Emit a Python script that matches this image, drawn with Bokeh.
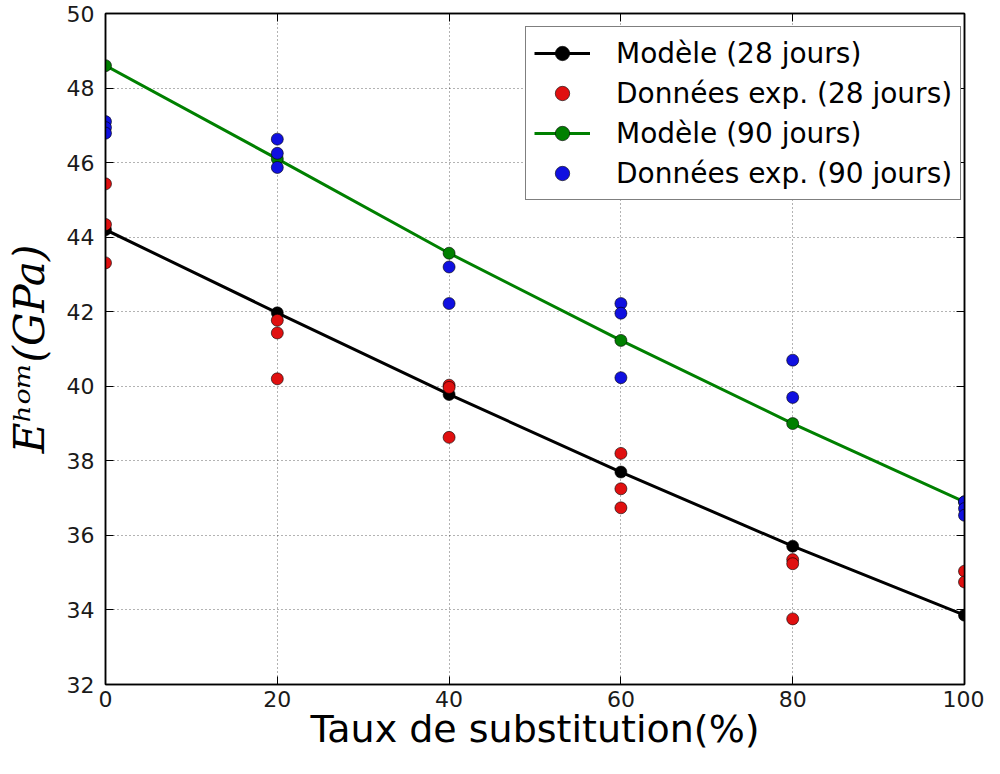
from bokeh.plotting import figure
from bokeh.models import Legend, LegendItem, LinearAxis, Range1d, FixedTicker
from bokeh.embed import file_html
from bokeh.resources import INLINE

# ---- data ----
taux = [0, 20, 40, 60, 80, 100]
modele_28 = [44.2, 41.97, 39.78, 37.7, 35.71, 33.86]
modele_90 = [48.6, 46.1, 43.57, 41.23, 39.0, 36.9]

exp28_x = [0, 0, 0, 20, 20, 20, 40, 40, 40, 60, 60, 60, 80, 80, 80, 100, 100]
exp28_y = [45.43, 44.34, 43.31, 41.77, 41.43, 40.2, 40.03, 39.97, 38.63,
           38.2, 37.25, 36.74, 35.35, 35.24, 33.76, 35.04, 34.75]
exp90_x = [0, 0, 0, 20, 20, 20, 40, 40, 60, 60, 60, 80, 80, 100, 100, 100]
exp90_y = [47.1, 46.94, 46.79, 46.63, 46.25, 45.87, 43.2, 42.22, 42.22,
           41.96, 40.23, 40.7, 39.7, 36.9, 36.72, 36.54]

x_ticks = [0, 20, 40, 60, 80, 100]
y_ticks = [32, 34, 36, 38, 40, 42, 44, 46, 48, 50]

labels = ["Modèle (28 jours)", "Données exp. (28 jours)",
          "Modèle (90 jours)", "Données exp. (90 jours)"]

p = figure(width=984, height=758, output_backend="svg", toolbar_location=None,
           x_range=Range1d(0, 100), y_range=Range1d(32, 50),
           min_border_left=105, min_border_right=20, min_border_top=13,
           min_border_bottom=74)

p.background_fill_color = "white"
p.border_fill_color = "white"
p.outline_line_color = "black"
p.outline_line_width = 1.5

# axes
for ax in (p.xaxis[0], p.yaxis[0]):
    ax.major_tick_in = 8
    ax.major_tick_out = 0
    ax.minor_tick_line_color = None
    ax.axis_line_color = "black"
    ax.axis_line_width = 1.5
    ax.major_tick_line_color = "black"
    ax.major_label_text_font = "DejaVu Sans"
    ax.major_label_text_font_size = "22px"
    ax.major_label_text_color = "#1a1a1a"
p.xaxis[0].ticker = FixedTicker(ticks=x_ticks)
p.yaxis[0].ticker = FixedTicker(ticks=y_ticks)
p.xaxis[0].major_label_standoff = 6
p.yaxis[0].major_label_standoff = 11

p.xaxis[0].axis_label = "Taux de substitution(%)"
p.xaxis[0].axis_label_text_font = "DejaVu Sans"
p.xaxis[0].axis_label_text_font_size = "38px"
p.xaxis[0].axis_label_text_font_style = "normal"
p.xaxis[0].axis_label_text_color = "black"
p.xaxis[0].axis_label_standoff = -3

p.yaxis[0].axis_label = "Eʰᵒᵐ(GPa)"
p.yaxis[0].axis_label_text_font = "DejaVu Serif"
p.yaxis[0].axis_label_text_font_size = "42px"
p.yaxis[0].axis_label_text_font_style = "italic"
p.yaxis[0].axis_label_text_color = "black"
p.yaxis[0].axis_label_standoff = 10

top = LinearAxis(ticker=FixedTicker(ticks=x_ticks),
                 major_label_overrides={t: "" for t in x_ticks},
                 major_tick_in=8, major_tick_out=0, minor_tick_line_color=None,
                 axis_line_color="black", axis_line_width=1.5)
right = LinearAxis(ticker=FixedTicker(ticks=y_ticks),
                   major_label_overrides={t: "" for t in y_ticks},
                   major_tick_in=8, major_tick_out=0, minor_tick_line_color=None,
                   axis_line_color="black", axis_line_width=1.5)
p.add_layout(top, "above")
p.add_layout(right, "right")

# grid
for g in (p.xgrid[0], p.ygrid[0]):
    g.grid_line_color = "black"
    g.grid_line_alpha = 0.6
    g.grid_line_dash = "1 3"
    g.grid_line_width = 1
p.xgrid[0].ticker = FixedTicker(ticks=x_ticks)
p.ygrid[0].ticker = FixedTicker(ticks=y_ticks)

# series
l28 = p.line(taux, modele_28, line_color="black", line_width=3)
m28 = p.scatter(taux, modele_28, size=12, fill_color="black", line_color="black", line_width=0.6)
e28 = p.scatter(exp28_x, exp28_y, size=12, fill_color="#e01010", line_color="black", line_width=0.6)
l90 = p.line(taux, modele_90, line_color="green", line_width=3)
m90 = p.scatter(taux, modele_90, size=12, fill_color="green", line_color="black", line_width=0.6)
e90 = p.scatter(exp90_x, exp90_y, size=12, fill_color="#1010e0", line_color="black", line_width=0.6)

legend = Legend(items=[
    LegendItem(label=labels[0], renderers=[l28, m28]),
    LegendItem(label=labels[1], renderers=[e28]),
    LegendItem(label=labels[2], renderers=[l90, m90]),
    LegendItem(label=labels[3], renderers=[e90]),
], location=(420, 484))
legend.label_text_font = "DejaVu Sans"
legend.label_text_font_size = "28px"
legend.label_text_color = "black"
legend.border_line_color = "black"
legend.border_line_width = 1.5
legend.background_fill_alpha = 1
legend.glyph_width = 56
legend.glyph_height = 36
legend.label_height = 36
legend.spacing = 4
legend.padding = 8
legend.margin = 0
legend.label_standoff = 26
p.add_layout(legend)

open("out.html", "w").write(file_html(p, INLINE))
